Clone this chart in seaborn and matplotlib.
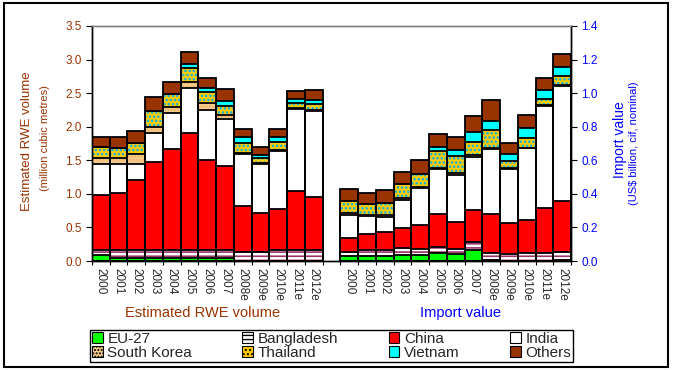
import numpy as np
import seaborn as sns
import matplotlib.pyplot as plt
from matplotlib.patches import Patch, Rectangle

# Years on both halves of the chart
years = ['2000', '2001', '2002', '2003', '2004', '2005', '2006', '2007',
         '2008e', '2009e', '2010e', '2011e', '2012e']
countries = ['EU-27', 'Bangladesh', 'China', 'India',
             'South Korea', 'Thailand', 'Vietnam', 'Others']

# Estimated RWE volume (million m3), one segment per supplier
vol_eu = [0.085, 0.05, 0.04, 0.04, 0.04, 0.04, 0.04, 0.04, 0, 0, 0, 0, 0]
vol_bangladesh = [0.085, 0.12, 0.13, 0.13, 0.12, 0.13, 0.12, 0.13, 0.13, 0.14, 0.17, 0.17, 0.17]
vol_china = [0.82, 0.84, 1.03, 1.31, 1.51, 1.73, 1.34, 1.24, 0.685, 0.58, 0.61, 0.88, 0.79]
vol_india = [0.46, 0.43, 0.25, 0.42, 0.535, 0.68, 0.75, 0.70, 0.775, 0.72, 0.855, 1.21, 1.27]
vol_skorea = [0.09, 0.09, 0.15, 0.10, 0.09, 0.09, 0.10, 0.06, 0.025, 0.015, 0.015, 0.02, 0.02]
vol_thailand = [0.16, 0.16, 0.16, 0.23, 0.19, 0.21, 0.17, 0.14, 0.145, 0.085, 0.115, 0.075, 0.095]
vol_vietnam = [0, 0, 0, 0, 0, 0.06, 0.06, 0.07, 0.08, 0.045, 0.085, 0.06, 0.06]
vol_others = [0.14, 0.16, 0.18, 0.21, 0.18, 0.17, 0.15, 0.175, 0.12, 0.11, 0.11, 0.115, 0.14]

# Import value (US$ billion)
val_eu = [0.032, 0.032, 0.032, 0.038, 0.038, 0.05, 0.044, 0.068, 0.008, 0, 0, 0, 0.008]
val_bangladesh = [0.024, 0.036, 0.036, 0.042, 0.036, 0.034, 0.030, 0.044, 0.042, 0.044, 0.05, 0.05, 0.048]
val_china = [0.084, 0.09, 0.102, 0.114, 0.138, 0.196, 0.158, 0.19, 0.228, 0.18, 0.192, 0.264, 0.30]
val_india = [0.132, 0.11, 0.09, 0.168, 0.222, 0.268, 0.28, 0.318, 0.392, 0.324, 0.432, 0.612, 0.684]
val_skorea = [0.012, 0.008, 0.012, 0.012, 0.006, 0.006, 0.01, 0.014, 0.004, 0.004, 0.002, 0.006, 0.008]
val_thailand = [0.076, 0.062, 0.076, 0.084, 0.08, 0.104, 0.102, 0.076, 0.108, 0.046, 0.058, 0.036, 0.056]
val_vietnam = [0, 0, 0, 0, 0, 0.022, 0.04, 0.058, 0.054, 0.038, 0.06, 0.048, 0.05]
val_others = [0.068, 0.066, 0.074, 0.072, 0.082, 0.078, 0.076, 0.098, 0.126, 0.068, 0.078, 0.072, 0.08]

volume = [vol_eu, vol_bangladesh, vol_china, vol_india,
          vol_skorea, vol_thailand, vol_vietnam, vol_others]
value = [val_eu, val_bangladesh, val_china, val_india,
         val_skorea, val_thailand, val_vietnam, val_others]

# fill colour, hatch, hatch colour, hatch width
styles = [
    ('#00FF00', '', 'none', 1.0),
    ('#FFFFFF', '----', '#993366', 1.2),
    ('#FF0000', '', 'none', 1.0),
    ('#FFFFFF', '', 'none', 1.0),
    ('#F5C987', '.....', '#E0A050', 0.4),
    ('#FFCC00', '....', '#00B0F0', 1.2),
    ('#00FFFF', '', 'none', 1.0),
    ('#993300', '', 'none', 1.0),
]

sns.set_style('ticks')
plt.rcParams['font.family'] = ['Liberation Sans', 'DejaVu Sans']

BROWN = '#993300'
BLUE = '#0000FF'

fig = plt.figure(figsize=(6.73, 3.70), dpi=100)
ax = fig.add_axes([92 / 673, 1 - 261 / 370, 479 / 673, 235 / 370])
ax2 = ax.twinx()


def draw_stack(axis, pos, segs):
    tops = np.cumsum(np.array(segs), axis=0)
    # biggest cumulative first, lower layers painted over it
    for i in reversed(range(len(segs))):
        face, hatch, hcol, hw = styles[i]
        with plt.rc_context({'hatch.linewidth': hw}):
            sns.barplot(x=pos, y=tops[i], native_scale=True, width=1,
                        color=face, saturation=1, hatch=hatch,
                        edgecolor=hcol, linewidth=0, errorbar=None, ax=axis)
    for i in range(len(segs)):
        sns.barplot(x=pos, y=tops[i], native_scale=True, width=1,
                    color='black', fill=False, linewidth=1.3,
                    errorbar=None, ax=axis)


left_pos = np.arange(13)
right_pos = np.arange(14, 27)
draw_stack(ax, left_pos, volume)
draw_stack(ax2, right_pos, value)

ax.set_xlim(-0.5, 26.5)
ax.set_ylim(0, 3.5)
ax2.set_ylim(0, 1.4)
ax.set_xlabel('')
ax.set_ylabel('')
ax2.set_ylabel('')

ax.set_yticks(np.arange(0, 3.51, 0.5))
ax.set_yticklabels([f'{v:.1f}' for v in np.arange(0, 3.51, 0.5)])
ax2.set_yticks(np.arange(0, 1.41, 0.2))
ax2.set_yticklabels([f'{v:.1f}' for v in np.arange(0, 1.41, 0.2)])

ax.set_xticks(list(left_pos) + list(right_pos))
ax.set_xticklabels(years + years, rotation=-90, fontsize=8.5)
ax.set_xticks(list(np.arange(-0.5, 13)) + list(np.arange(13.5, 27)), minor=True)
ax.tick_params(axis='x', which='major', length=0, pad=5)
ax.tick_params(axis='x', which='minor', length=3, width=0.8, color='black', direction='out')
ax.tick_params(axis='y', length=4, width=0.8, color='black', direction='out',
               labelcolor=BROWN, labelsize=8.5)
ax2.tick_params(axis='y', length=4, width=0.8, color='black', direction='out',
                labelcolor=BLUE, labelsize=8.5)

for a in (ax, ax2):
    for s in a.spines.values():
        s.set_color('black')
        s.set_linewidth(1)
        s.set_visible(True)
    a.spines['top'].set_color('#808080')

# axis titles
fig.text(27 / 673, 1 - 141 / 370, 'Estimated RWE volume', rotation=90,
         color=BROWN, fontsize=9.5, ha='center', va='center')
fig.text(45 / 673, 1 - 138 / 370, '(million cubic metres)', rotation=90,
         color=BROWN, fontsize=8, ha='center', va='center')
fig.text(620 / 673, 1 - 140 / 370, 'Import value', rotation=90,
         color=BLUE, fontsize=10, ha='center', va='center')
fig.text(634 / 673, 1 - 143 / 370, r'(US\$ billion, cif, nominal)', rotation=90,
         color=BLUE, fontsize=8, ha='center', va='center')

fig.text(203 / 673, 1 - 313 / 370, 'Estimated RWE volume', color=BROWN,
         fontsize=10.5, ha='center', va='center')
fig.text(460 / 673, 1 - 313 / 370, 'Import value', color=BLUE,
         fontsize=10.5, ha='center', va='center')

# legend, filled row by row
order = [0, 4, 1, 5, 2, 6, 3, 7]
handles = []
for i in order:
    face, hatch, hcol, hw = styles[i]
    handles.append(Patch(facecolor=face, edgecolor='black', hatch=hatch, linewidth=0.8))
leg = fig.legend(handles, [countries[i] for i in order], ncol=4, loc='center',
                 bbox_to_anchor=(331.5 / 673, 1 - 346 / 370), fontsize=11,
                 frameon=True, fancybox=False, edgecolor='black', framealpha=1,
                 handlelength=0.7, handleheight=0.7, handletextpad=0.3,
                 columnspacing=3.3, borderpad=0.15, labelspacing=0.0,
                 borderaxespad=0)
leg.get_frame().set_linewidth(1)

fig.add_artist(Rectangle((4 / 673, 3 / 370), 664 / 673, 364 / 370,
                         transform=fig.transFigure, fill=False,
                         edgecolor='black', linewidth=1.5))

fig.savefig('out.png', dpi=100)
